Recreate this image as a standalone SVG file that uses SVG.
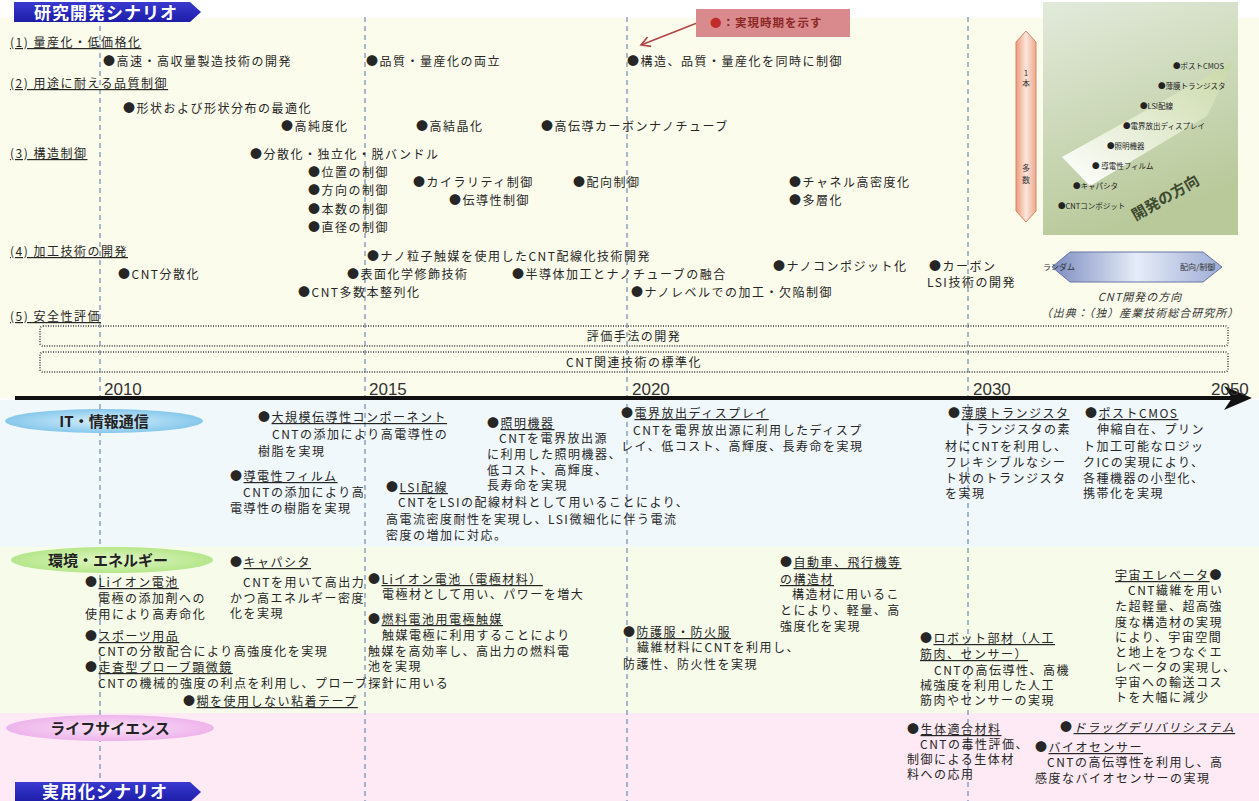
<svg xmlns="http://www.w3.org/2000/svg" width="1259" height="801" viewBox="0 0 1259 801">
<style>
.t{font-family:"Noto Sans CJK JP","Noto Sans CJK SC",sans-serif;font-size:12px;letter-spacing:1.5px;fill:#262626}
.u{text-decoration:underline}
.yr{font-family:"Liberation Sans",Arial,sans-serif;font-size:17px;fill:#333}
.cat{font-family:"Noto Sans CJK JP",sans-serif;font-size:15px;font-weight:bold;fill:#222;text-anchor:middle}
.ban{font-family:"Noto Sans CJK JP",sans-serif;font-size:17px;font-weight:bold;fill:#fff;letter-spacing:1px}
.ins{font-family:"Noto Sans CJK JP",sans-serif;font-size:7.5px;fill:#222}
.box{fill:none;stroke:#666;stroke-width:2;stroke-dasharray:1 1.5}
.dash{stroke:#6f8bb3;stroke-width:1.2;stroke-dasharray:5 4;fill:none}
</style>
<defs>
<linearGradient id="gBan" x1="0" y1="0" x2="0" y2="1"><stop offset="0" stop-color="#3a3ad0"/><stop offset="1" stop-color="#1d1da8"/></linearGradient>
<radialGradient id="gIT"><stop offset="0" stop-color="#d6eefb"/><stop offset="1" stop-color="#86c8ec"/></radialGradient>
<radialGradient id="gEN"><stop offset="0" stop-color="#e2f7c6"/><stop offset="1" stop-color="#b6e68a"/></radialGradient>
<radialGradient id="gLS"><stop offset="0" stop-color="#fbe2f8"/><stop offset="1" stop-color="#eeb4ec"/></radialGradient>
<linearGradient id="gIns" x1="0" y1="0" x2="0.3" y2="1"><stop offset="0" stop-color="#e2eadb"/><stop offset="1" stop-color="#b9c99a"/></linearGradient>
<linearGradient id="gBand" x1="0" y1="1" x2="1" y2="0"><stop offset="0" stop-color="#ffffff"/><stop offset="1" stop-color="#c9d8a6"/></linearGradient>
<linearGradient id="gPk" x1="0" y1="0" x2="1" y2="0"><stop offset="0" stop-color="#ee9a78"/><stop offset="0.5" stop-color="#fce6dc"/><stop offset="1" stop-color="#eda98c"/></linearGradient>
<linearGradient id="gBl" x1="0" y1="0" x2="1" y2="0"><stop offset="0" stop-color="#7c8cc0"/><stop offset="0.5" stop-color="#e6ecf8"/><stop offset="1" stop-color="#9eacd6"/></linearGradient>
<marker id="mArr" markerWidth="12" markerHeight="12" refX="10" refY="6" orient="auto" markerUnits="userSpaceOnUse"><path d="M1,1 L10,6 L1,11" fill="none" stroke="#b04545" stroke-width="1.6"/></marker>
</defs>

<g id="background">
<rect x="0" y="0" width="1259" height="801" fill="#ffffff"/>
<rect x="0" y="18" width="1259" height="380" fill="#fcfcec"/>
<rect x="0" y="400" width="1259" height="147" fill="#f1f8fc"/>
<rect x="0" y="547" width="1259" height="166" fill="#f7fbea"/>
<rect x="0" y="713" width="1259" height="88" fill="#fdeaf4"/>
</g>

<g id="connectors">
<line class="dash" x1="100" y1="17" x2="100" y2="801"/>
<line class="dash" x1="365" y1="17" x2="365" y2="801"/>
<line class="dash" x1="627" y1="17" x2="627" y2="801"/>
<line class="dash" x1="968" y1="17" x2="968" y2="801"/>
<line x1="15" y1="398" x2="1232" y2="398" stroke="#111" stroke-width="4"/>
<path d="M1224,386 L1252,398 L1224,410 L1232,398 Z" fill="#111"/>
<line x1="697" y1="23" x2="641" y2="45" stroke="#b04545" stroke-width="1.6" marker-end="url(#mArr)"/>
</g>

<g id="banner-top">
<polygon points="14,2 190,2 201,12 190,22 14,22" fill="url(#gBan)"/>
<text class="ban" x="34" y="19">研究開発シナリオ</text>
</g>

<g id="legend">
<rect x="696" y="9" width="154" height="28" fill="#d98a8c"/>
<text x="710" y="27" font-family="Noto Sans CJK JP,sans-serif" font-size="11.5" font-weight="bold" letter-spacing="1" fill="#8e2626"><tspan fill="#c02c2c">●</tspan>：実現時期を示す</text>
</g>

<g id="years">
<text class="yr" x="104" y="395">2010</text>
<text class="yr" x="369" y="395">2015</text>
<text class="yr" x="632" y="395">2020</text>
<text class="yr" x="973" y="395">2030</text>
<text class="yr" x="1211" y="395">2050</text>
</g>

<g id="s1">
<text class="t u" x="10" y="47">(1) 量産化・低価格化</text>
<text class="t" x="103" y="66">●高速・高収量製造技術の開発</text>
<text class="t" x="366" y="66">●品質・量産化の両立</text>
<text class="t" x="627" y="66">●構造、品質・量産化を同時に制御</text>
</g>
<g id="s2">
<text class="t u" x="10" y="88">(2) 用途に耐える品質制御</text>
<text class="t" x="123" y="113">●形状および形状分布の最適化</text>
<text class="t" x="281" y="131">●高純度化</text>
<text class="t" x="416" y="131">●高結晶化</text>
<text class="t" x="541" y="131">●高伝導カーボンナノチューブ</text>
</g>
<g id="s3">
<text class="t u" x="10" y="158">(3) 構造制御</text>
<text class="t" x="250" y="159">●分散化・独立化・脱バンドル</text>
<text class="t" x="308" y="177">●位置の制御</text>
<text class="t" x="308" y="195">●方向の制御</text>
<text class="t" x="308" y="214">●本数の制御</text>
<text class="t" x="308" y="232">●直径の制御</text>
<text class="t" x="413" y="187">●カイラリティ制御</text>
<text class="t" x="449" y="205">●伝導性制御</text>
<text class="t" x="573" y="187">●配向制御</text>
<text class="t" x="789" y="187">●チャネル高密度化</text>
<text class="t" x="789" y="205">●多層化</text>
</g>
<g id="s4">
<text class="t u" x="10" y="256">(4) 加工技術の開発</text>
<text class="t" x="367" y="261">●ナノ粒子触媒を使用したCNT配線化技術開発</text>
<text class="t" x="118" y="279">●CNT分散化</text>
<text class="t" x="347" y="279">●表面化学修飾技術</text>
<text class="t" x="512" y="279">●半導体加工とナノチューブの融合</text>
<text class="t" x="773" y="271">●ナノコンポジット化</text>
<text class="t" x="929" y="271">●カーボン</text>
<text class="t" x="927" y="287">LSI技術の開発</text>
<text class="t" x="298" y="297">●CNT多数本整列化</text>
<text class="t" x="631" y="297">●ナノレベルでの加工・欠陥制御</text>
</g>
<g id="s5">
<text class="t u" x="10" y="321">(5) 安全性評価</text>
<rect class="box" x="40" y="326" width="1188" height="20" rx="3"/>
<rect class="box" x="40" y="352" width="1188" height="20" rx="3"/>
<text class="t" x="634" y="341" text-anchor="middle">評価手法の開発</text>
<text class="t" x="634" y="367" text-anchor="middle">CNT関連技術の標準化</text>
</g>

<g id="inset">
<rect x="1043" y="2" width="195" height="233" fill="url(#gIns)"/>
<polygon points="1062,157 1233,62 1207,116 1090,186" fill="url(#gBand)"/>
<text class="ins" x="1173" y="69">●ポストCMOS</text>
<text class="ins" x="1158" y="89">●薄膜トランジスタ</text>
<text class="ins" x="1140" y="109">●LSI配線</text>
<text class="ins" x="1123" y="129">●電界放出ディスプレイ</text>
<text class="ins" x="1107" y="149">●照明機器</text>
<text class="ins" x="1092" y="169">● 導電性フィルム</text>
<text class="ins" x="1073" y="189">●キャパシタ</text>
<text class="ins" x="1058" y="209">●CNTコンポジット</text>
<text x="1165" y="203" transform="rotate(-30 1165 197)" text-anchor="middle" font-family="Noto Sans CJK JP,sans-serif" font-size="15" font-weight="bold" fill="#3d4a2e">開発の方向</text>
</g>
<g id="scale-arrow">
<polygon points="1026,31 1036,42 1036,211 1026,222 1016,211 1016,42" fill="url(#gPk)" stroke="#d08868" stroke-width="1"/>
<text x="1026" y="76" text-anchor="middle" font-family="Noto Sans CJK JP,sans-serif" font-size="8" fill="#333">1</text>
<text x="1026" y="86" text-anchor="middle" font-family="Noto Sans CJK JP,sans-serif" font-size="8" fill="#333">本</text>
<text x="1026" y="171" text-anchor="middle" font-family="Noto Sans CJK JP,sans-serif" font-size="8" fill="#333">多</text>
<text x="1026" y="183" text-anchor="middle" font-family="Noto Sans CJK JP,sans-serif" font-size="8" fill="#333">数</text>
</g>
<g id="direction">
<polygon points="1052,267 1070,252 1203,252 1222,267 1203,282 1070,282" fill="url(#gBl)" stroke="#6676a6" stroke-width="1"/>
<text x="1043" y="270" font-family="Noto Sans CJK JP,sans-serif" font-size="8" fill="#333">ランダム</text>
<text x="1180" y="270" font-family="Noto Sans CJK JP,sans-serif" font-size="8" fill="#333">配向/制御</text>
<text x="1140" y="301" text-anchor="middle" font-family="Noto Sans CJK JP,sans-serif" font-size="11" font-style="italic" letter-spacing="1" fill="#333">CNT開発の方向</text>
<text x="1140" y="317" text-anchor="middle" font-family="Noto Sans CJK JP,sans-serif" font-size="11" font-style="italic" letter-spacing="1" fill="#333">（出典：（独）産業技術総合研究所）</text>
</g>

<g id="cat-it">
<ellipse cx="104" cy="421" rx="99" ry="12" fill="url(#gIT)"/>
<text class="cat" x="104" y="427">IT・情報通信</text>
</g>
<g id="cat-env">
<ellipse cx="112" cy="560" rx="101" ry="13" fill="url(#gEN)"/>
<text class="cat" x="108" y="566">環境・エネルギー</text>
</g>
<g id="cat-life">
<ellipse cx="110" cy="728" rx="104" ry="13" fill="url(#gLS)"/>
<text class="cat" x="110" y="734">ライフサイエンス</text>
</g>

<g id="it-component">
<text class="t" x="258" y="422">●<tspan class="u">大規模伝導性コンポーネント</tspan></text>
<text class="t" x="272" y="439">CNTの添加により高電導性の</text>
<text class="t" x="258" y="456">樹脂を実現</text>
</g>
<g id="it-film">
<text class="t" x="230" y="481">●<tspan class="u">導電性フィルム</tspan></text>
<text class="t" x="243" y="497">CNTの添加により高</text>
<text class="t" x="230" y="513">電導性の樹脂を実現</text>
</g>
<g id="it-light">
<text class="t" x="487" y="428">●<tspan class="u">照明機器</tspan></text>
<text class="t" x="499" y="443">CNTを電界放出源</text>
<text class="t" x="487" y="459">に利用した照明機器、</text>
<text class="t" x="487" y="475">低コスト、高輝度、</text>
<text class="t" x="487" y="490">長寿命を実現</text>
</g>
<g id="it-lsi">
<text class="t" x="386" y="492">●<tspan class="u">LSI配線</tspan></text>
<text class="t" x="398" y="507">CNTをLSIの配線材料として用いることにより、</text>
<text class="t" x="386" y="524">高電流密度耐性を実現し、LSI微細化に伴う電流</text>
<text class="t" x="386" y="540">密度の増加に対応。</text>
</g>
<g id="it-fed">
<text class="t" x="621" y="418">●<tspan class="u">電界放出ディスプレイ</tspan></text>
<text class="t" x="633" y="435">CNTを電界放出源に利用したディスプ</text>
<text class="t" x="621" y="451">レイ、低コスト、高輝度、長寿命を実現</text>
</g>
<g id="it-tft">
<text class="t" x="948" y="418">●<tspan class="u">薄膜トランジスタ</tspan></text>
<text class="t" x="963" y="434">トランジスタの素</text>
<text class="t" x="945" y="451">材にCNTを利用し、</text>
<text class="t" x="945" y="467">フレキシブルなシー</text>
<text class="t" x="945" y="483">ト状のトランジスタ</text>
<text class="t" x="945" y="498">を実現</text>
</g>
<g id="it-postcmos">
<text class="t" x="1085" y="418">●<tspan class="u">ポストCMOS</tspan></text>
<text class="t" x="1097" y="434">伸縮自在、プリン</text>
<text class="t" x="1083" y="451">ト加工可能なロジッ</text>
<text class="t" x="1083" y="467">クICの実現により、</text>
<text class="t" x="1083" y="483">各種機器の小型化、</text>
<text class="t" x="1083" y="498">携帯化を実現</text>
</g>

<g id="env-capacitor">
<text class="t" x="230" y="567">●<tspan class="u">キャパシタ</tspan></text>
<text class="t" x="243" y="587">CNTを用いて高出力</text>
<text class="t" x="230" y="603">かつ高エネルギー密度</text>
<text class="t" x="230" y="618">化を実現</text>
</g>
<g id="env-li">
<text class="t" x="85" y="587">●<tspan class="u">Liイオン電池</tspan></text>
<text class="t" x="98" y="603">電極の添加剤への</text>
<text class="t" x="85" y="619">使用により高寿命化</text>
</g>
<g id="env-sports">
<text class="t" x="85" y="641">●<tspan class="u">スポーツ用品</tspan></text>
<text class="t" x="98" y="656">CNTの分散配合により高強度化を実現</text>
</g>
<g id="env-spm">
<text class="t" x="85" y="672">●<tspan class="u">走査型プローブ顕微鏡</tspan></text>
<text class="t" x="98" y="688">CNTの機械的強度の利点を利用し、プローブ探針に用いる</text>
</g>
<g id="env-tape">
<text class="t" x="183" y="706">●<tspan class="u">糊を使用しない粘着テープ</tspan></text>
</g>
<g id="env-li2">
<text class="t" x="368" y="584">●<tspan class="u">Liイオン電池（電極材料）</tspan></text>
<text class="t" x="382" y="599">電極材として用い、パワーを増大</text>
</g>
<g id="env-fuel">
<text class="t" x="368" y="624">●<tspan class="u">燃料電池用電極触媒</tspan></text>
<text class="t" x="382" y="640">触媒電極に利用することにより</text>
<text class="t" x="368" y="656">触媒を高効率し、高出力の燃料電</text>
<text class="t" x="368" y="671">池を実現</text>
</g>
<g id="env-protect">
<text class="t" x="623" y="637">●<tspan class="u">防護服・防火服</tspan></text>
<text class="t" x="637" y="652">繊維材料にCNTを利用し、</text>
<text class="t" x="623" y="669">防護性、防火性を実現</text>
</g>
<g id="env-car">
<text class="t" x="780" y="567">●<tspan class="u">自動車、飛行機等</tspan></text>
<text class="t u" x="780" y="584">の構造材</text>
<text class="t" x="792" y="599">構造材に用いるこ</text>
<text class="t" x="780" y="615">とにより、軽量、高</text>
<text class="t" x="780" y="631">強度化を実現</text>
</g>
<g id="env-robot">
<text class="t" x="920" y="643">●<tspan class="u">ロボット部材（人工</tspan></text>
<text class="t u" x="920" y="659">筋肉、センサー）</text>
<text class="t" x="934" y="675">CNTの高伝導性、高機</text>
<text class="t" x="920" y="690">械強度を利用した人工</text>
<text class="t" x="920" y="705">筋肉やセンサーの実現</text>
</g>
<g id="env-elevator">
<text class="t" x="1115" y="580"><tspan class="u">宇宙エレベータ</tspan>●</text>
<text class="t" x="1128" y="595">CNT繊維を用い</text>
<text class="t" x="1115" y="611">た超軽量、超高強</text>
<text class="t" x="1115" y="627">度な構造材の実現</text>
<text class="t" x="1115" y="642">により、宇宙空間</text>
<text class="t" x="1115" y="657">と地上をつなぐエ</text>
<text class="t" x="1115" y="672">レベータの実現し、</text>
<text class="t" x="1115" y="687">宇宙への輸送コス</text>
<text class="t" x="1115" y="702">トを大幅に減少</text>
</g>

<g id="life-bio">
<text class="t" x="907" y="734">●<tspan class="u">生体適合材料</tspan></text>
<text class="t" x="920" y="749">CNTの毒性評価、</text>
<text class="t" x="907" y="764">制御による生体材</text>
<text class="t" x="907" y="779">料への応用</text>
</g>
<g id="life-dds">
<text class="t" x="1060" y="732">●<tspan class="u" font-style="italic">ドラッグデリバリシステム</tspan></text>
</g>
<g id="life-sensor">
<text class="t" x="1035" y="752">●<tspan class="u">バイオセンサー</tspan></text>
<text class="t" x="1047" y="767">CNTの高伝導性を利用し、高</text>
<text class="t" x="1035" y="783">感度なバイオセンサーの実現</text>
</g>

<g id="banner-bottom">
<polygon points="15,782 190,782 201,792 190,802 15,802" fill="url(#gBan)"/>
<text class="ban" x="42" y="798" font-size="16">実用化シナリオ</text>
</g>
</svg>
